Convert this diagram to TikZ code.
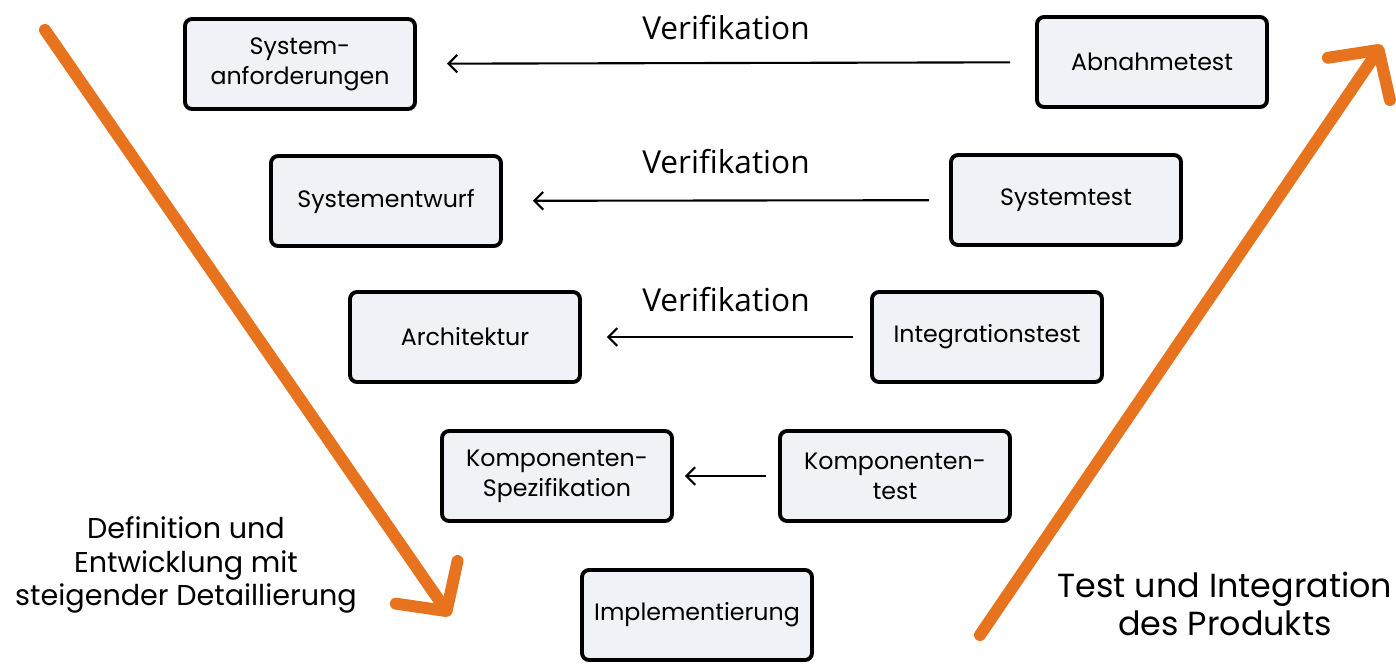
\documentclass[tikz,border=0pt]{standalone}
\usepackage{fontspec}
\setmainfont{Poppins}
\newfontfamily\labelfont{Open Sans}
\usepackage{xcolor}
\usepackage{tikz}
\usetikzlibrary{arrows.meta, positioning}
\definecolor{vorange}{HTML}{E8731F}
\definecolor{boxfill}{HTML}{EFF2F6}
\tikzset{
    phase/.style={rectangle, draw=black, line width=2.2pt, fill=boxfill, rounded corners=4pt, align=center, minimum width=4.6cm, minimum height=1.8cm, font=\fontsize{13.5}{17}\selectfont},
    verif/.style={-{Straight Barb[length=5pt, width=10pt]}, line width=1.2pt},
    flow/.style={-{Straight Barb[length=0.7cm, width=1.5cm, round]}, line width=6.8pt, draw=vorange, line cap=round},
    vlabel/.style={font=\labelfont\fontsize{18}{22}\selectfont},
    note/.style={align=center, font=\fontsize{16.3}{19}\selectfont}
}

\begin{document}
\begin{tikzpicture}[x=0.2mm, y=-0.2mm]
    \useasboundingbox (0,0) rectangle (1396,663);

    % Definition side
    \node[phase] (req) at (300,64) {System-\\anforderungen};
    \node[phase] (design) at (386,201) {Systementwurf};
    \node[phase] (arch) at (465,337) {Architektur};
    \node[phase] (spec) at (557,476) {Komponenten-\\Spezifikation};

    % Bottom
    \node[phase] (impl) at (697,615) {Implementierung};

    % Test side
    \node[phase] (accept) at (1152,62) {Abnahmetest};
    \node[phase] (systest) at (1066,200) {Systemtest};
    \node[phase] (inttest) at (987,337) {Integrationstest};
    \node[phase] (comptest) at (895,476) {Komponenten-\\test};

    % Verification
    \draw[verif, shorten <=0.5cm, shorten >=0.6cm] (accept) -- node[vlabel, yshift=0.7cm] {Verifikation} (req);
    \draw[verif, shorten <=0.4cm, shorten >=0.6cm] (systest) -- node[vlabel, yshift=0.78cm] {Verifikation} (design);
    \draw[verif, shorten <=0.35cm, shorten >=0.5cm] (inttest) -- node[vlabel, yshift=0.74cm] {Verifikation} (arch);
    \draw[verif, shorten <=0.24cm, shorten >=0.22cm] (comptest) -- (spec);

    % Big arrows
    \coordinate (downstart) at (45,30);
    \coordinate (downend) at (450,616);
    \coordinate (upstart) at (980,635);
    \coordinate (upend) at (1382,45);
    \draw[flow] (downstart) -- (downend);
    \draw[flow] (upstart) -- (upend);

    \node[note] (defnote) at (186,565) {Definition und\\Entwicklung mit\\steigender Detaillierung};
    \node[note, font=\fontsize{19}{21.5}\selectfont] (testnote) at (1225,604) {Test und Integration\\des Produkts};
\end{tikzpicture}
\end{document}
